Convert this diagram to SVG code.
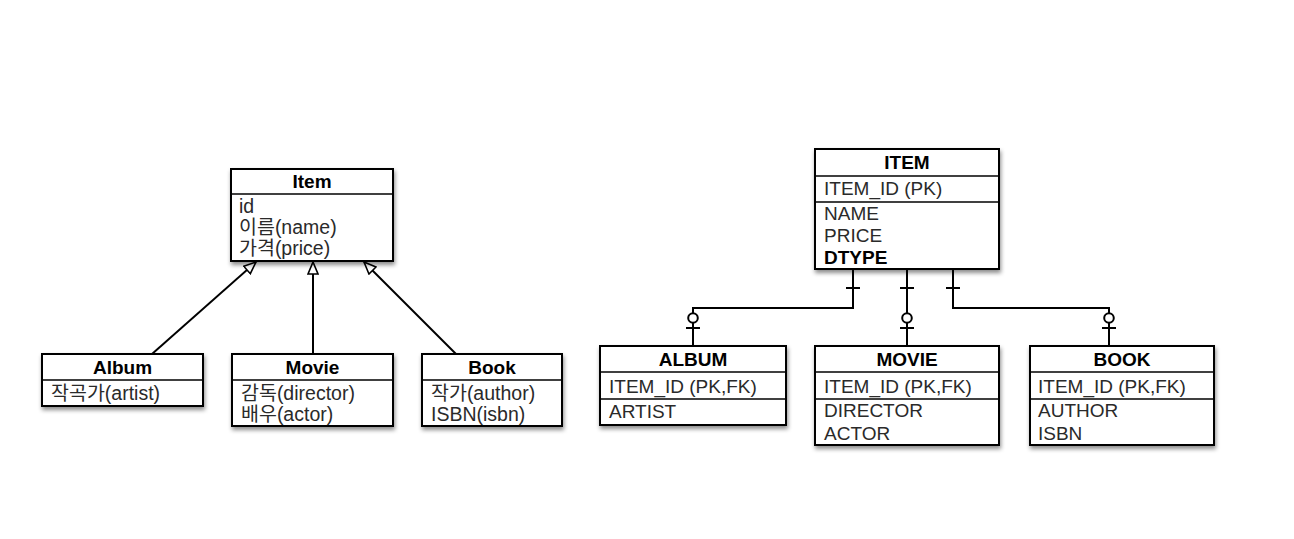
<svg xmlns="http://www.w3.org/2000/svg" width="1294" height="539" viewBox="0 0 1294 539">
<defs>
<filter id="sh" x="-10%" y="-10%" width="125%" height="135%">
<feDropShadow dx="1" dy="3" stdDeviation="2" flood-color="#000" flood-opacity="0.45"/>
</filter>
<marker id="tri" viewBox="0 0 14 12" refX="13" refY="6" markerWidth="14" markerHeight="12" markerUnits="userSpaceOnUse" orient="auto">
<path d="M1,1 L13,6 L1,11 Z" fill="#fff" stroke="#000" stroke-width="1.6"/>
</marker>
</defs>
<style>
.box{fill:#fff;stroke:#000;stroke-width:2;filter:url(#sh)}
.div{stroke:#000;stroke-width:1.6;fill:none}
.h{font-family:"Liberation Sans","Noto Sans CJK KR",sans-serif;font-weight:bold;font-size:19px;fill:#000;text-anchor:middle}
.t{font-family:"Liberation Sans","Noto Sans CJK KR",sans-serif;font-size:19.5px;fill:#2a2a2a}
.e{font-family:"Liberation Sans",sans-serif;font-size:19px;fill:#2a2a2a}
.eb{font-family:"Liberation Sans",sans-serif;font-size:19px;font-weight:bold;fill:#000}
.ln{stroke:#000;stroke-width:2;fill:none}
.cir{fill:#fff;stroke:#000;stroke-width:2}
</style>
<rect width="1294" height="539" fill="#fff"/>

<g id="connectors">
<line class="ln" x1="152" y1="354" x2="256" y2="262" marker-end="url(#tri)"/>
<line class="ln" x1="313" y1="354" x2="313" y2="262" marker-end="url(#tri)"/>
<line class="ln" x1="456" y1="354" x2="364" y2="262" marker-end="url(#tri)"/>

<path class="ln" d="M853,269 V308 H693 V346"/>
<path class="ln" d="M907,269 V346"/>
<path class="ln" d="M953,269 V308 H1109 V346"/>
<path class="ln" d="M846,288 H860 M900,288 H914 M946,288 H960 M686,328 H700 M900,328 H914 M1102,328 H1116"/>
<circle class="cir" cx="693" cy="318" r="4.8"/>
<circle class="cir" cx="907" cy="318" r="4.8"/>
<circle class="cir" cx="1109" cy="318" r="4.8"/>
</g>

<g id="item">
<rect class="box" x="231" y="169" width="162" height="92"/>
<line class="div" x1="231" y1="194" x2="393" y2="194"/>
<text class="h" x="312" y="188">Item</text>
<text class="t" x="239" y="213">id</text>
<text class="t" x="239" y="234">이름(name)</text>
<text class="t" x="239" y="255">가격(price)</text>
</g>

<g id="album">
<rect class="box" x="42" y="354" width="161" height="52"/>
<line class="div" x1="42" y1="380" x2="203" y2="380"/>
<text class="h" x="122.5" y="374">Album</text>
<text class="t" x="51" y="400">작곡가(artist)</text>
</g>

<g id="movie">
<rect class="box" x="232" y="354" width="161" height="72"/>
<line class="div" x1="232" y1="380" x2="393" y2="380"/>
<text class="h" x="312.5" y="374">Movie</text>
<text class="t" x="241" y="400">감독(director)</text>
<text class="t" x="241" y="421">배우(actor)</text>
</g>

<g id="book">
<rect class="box" x="422" y="354" width="140" height="72"/>
<line class="div" x1="422" y1="380" x2="562" y2="380"/>
<text class="h" x="492" y="374">Book</text>
<text class="t" x="431" y="400">작가(author)</text>
<text class="t" x="431" y="421">ISBN(isbn)</text>
</g>

<g id="ITEM">
<rect class="box" x="815" y="149" width="184" height="120"/>
<line class="div" x1="815" y1="176" x2="999" y2="176"/>
<line class="div" x1="815" y1="202" x2="999" y2="202"/>
<text class="h" x="907" y="169">ITEM</text>
<text class="e" x="824" y="195">ITEM_ID (PK)</text>
<text class="e" x="824" y="220">NAME</text>
<text class="e" x="824" y="242">PRICE</text>
<text class="eb" x="824" y="264">DTYPE</text>
</g>

<g id="ALBUM">
<rect class="box" x="600" y="346" width="186" height="79"/>
<line class="div" x1="600" y1="372" x2="786" y2="372"/>
<line class="div" x1="600" y1="399" x2="786" y2="399"/>
<text class="h" x="693" y="366">ALBUM</text>
<text class="e" x="609" y="393">ITEM_ID (PK,FK)</text>
<text class="e" x="609" y="418">ARTIST</text>
</g>

<g id="MOVIE">
<rect class="box" x="815" y="346" width="184" height="99"/>
<line class="div" x1="815" y1="372" x2="999" y2="372"/>
<line class="div" x1="815" y1="399" x2="999" y2="399"/>
<text class="h" x="907" y="366">MOVIE</text>
<text class="e" x="824" y="393">ITEM_ID (PK,FK)</text>
<text class="e" x="824" y="417">DIRECTOR</text>
<text class="e" x="824" y="440">ACTOR</text>
</g>

<g id="BOOK">
<rect class="box" x="1030" y="346" width="184" height="99"/>
<line class="div" x1="1030" y1="372" x2="1214" y2="372"/>
<line class="div" x1="1030" y1="399" x2="1214" y2="399"/>
<text class="h" x="1122" y="366">BOOK</text>
<text class="e" x="1038" y="393">ITEM_ID (PK,FK)</text>
<text class="e" x="1038" y="417">AUTHOR</text>
<text class="e" x="1038" y="440">ISBN</text>
</g>
</svg>
